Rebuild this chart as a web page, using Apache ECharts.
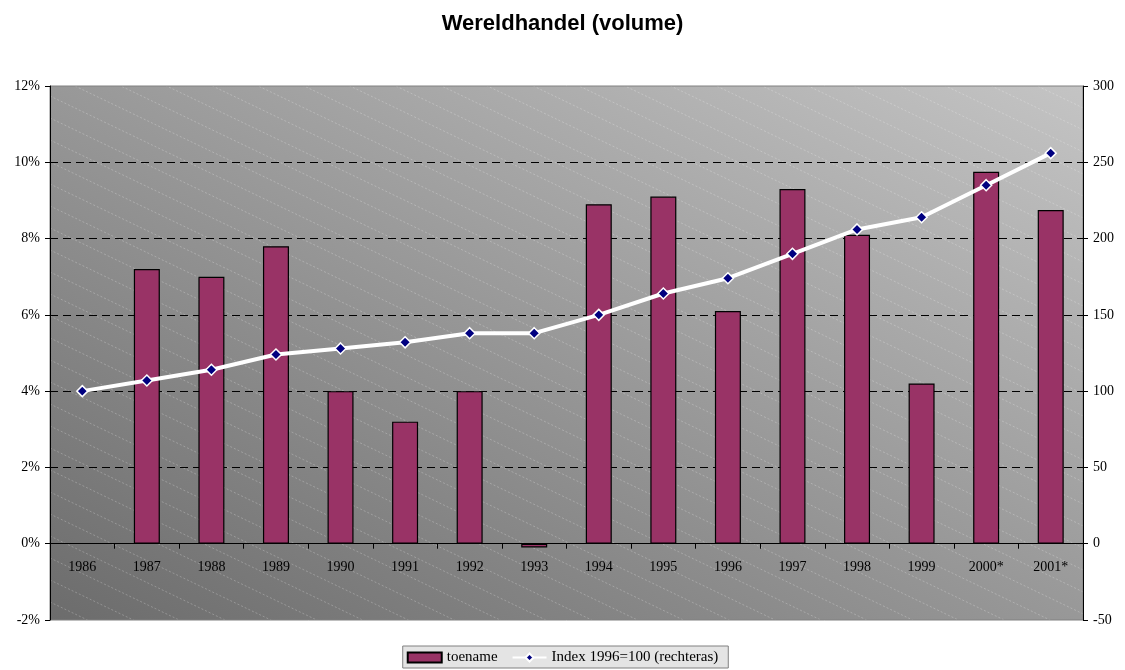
<!DOCTYPE html>
<html>
<head>
<meta charset="utf-8">
<script src="https://cdn.jsdelivr.net/npm/echarts@6/dist/echarts.min.js"></script>
<style>
  html, body { margin: 0; padding: 0; background: #fff; }
  #chart { width: 1125px; height: 670px; }
</style>
</head>
<body>
<div id="chart"></div>
<script>
  // jaren
  var years = ['1986', '1987', '1988', '1989', '1990', '1991', '1992', '1993',
    '1994', '1995', '1996', '1997', '1998', '1999', '2000*', '2001*'];
  // toename (%)
  var toename = [null, 7.2, 7.0, 7.8, 4.0, 3.2, 4.0, -0.1,
    8.9, 9.1, 6.1, 9.3, 8.1, 4.2, 9.75, 8.75];
  // Index 1996=100 (rechteras)
  var indexData = [100, 107, 114, 124, 128, 132, 138, 138,
    150, 164, 174, 190, 206, 214, 235, 256];
  var leftTicks = { min: -2, max: 12, step: 2 };
  var rightTicks = { min: -50, max: 300, step: 50 };

  var W = 1125, H = 670;
  var gl = 50, gr = 42, gt = 86, gb = 50;

  // achtergrond van het plotvlak: verloop + schuine lijntjes
  function makeBackground() {
    var c = document.createElement('canvas');
    c.width = W; c.height = H;
    var ctx = c.getContext('2d');
    var x0 = gl, y0 = gt, x1 = W - gr, y1 = H - gb;
    var w = x1 - x0, h = y1 - y0;
    var cx = x0 + w / 2, cy = y0 + h / 2;
    var len = Math.sqrt(w * w + h * h);
    var dx = h / len, dy = -w / len;
    var L = w * h / len;
    var g = ctx.createLinearGradient(cx - dx * L, cy - dy * L, cx + dx * L, cy + dy * L);
    g.addColorStop(0, '#6c6c6c');
    g.addColorStop(1, '#c4c4c4');
    ctx.fillStyle = g;
    ctx.fillRect(x0, y0, w, h);
    ctx.save();
    ctx.beginPath();
    ctx.rect(x0, y0, w, h);
    ctx.clip();
    ctx.strokeStyle = 'rgba(255,255,255,0.3)';
    ctx.lineWidth = 0.8;
    ctx.setLineDash([2, 2]);
    var slope = 0.48;
    for (var s = -1200; s < 800; s += 22) {
      ctx.beginPath();
      ctx.moveTo(x0, y0 + s);
      ctx.lineTo(x1, y0 + s + slope * w);
      ctx.stroke();
    }
    ctx.restore();
    return c;
  }

  var myChart = echarts.init(document.getElementById('chart'));
  var serif = '"Liberation Serif", "Times New Roman", serif';

  // afstand tussen 0%-lijn en onderrand, voor de jaartallen
  var plotH = H - gt - gb;
  var zeroOffset = plotH * (0 - leftTicks.min) / (leftTicks.max - leftTicks.min);

  var option = {
    backgroundColor: '#ffffff',
    animation: false,
    title: {
      text: 'Wereldhandel (volume)',
      left: 'center',
      top: 8,
      textStyle: {
        fontFamily: '"Liberation Sans", Arial, sans-serif',
        fontSize: 22,
        fontWeight: 'bold',
        color: '#000'
      }
    },
    grid: {
      left: gl, right: gr, top: gt, bottom: gb,
      show: true,
      backgroundColor: { image: makeBackground(), repeat: 'no-repeat' },
      borderWidth: 1,
      borderColor: '#808080'
    },
    legend: {
      bottom: 2,
      left: 'center',
      backgroundColor: '#e4e4e4',
      borderColor: '#808080',
      borderWidth: 1,
      borderRadius: 0,
      padding: [4, 10, 3, 4],
      itemGap: 14,
      itemWidth: 34,
      itemHeight: 10,
      textStyle: { fontFamily: serif, fontSize: 15, color: '#000' },
      data: [
        { name: 'toename', icon: 'rect' },
        { name: 'Index 1996=100 (rechteras)' }
      ]
    },
    xAxis: {
      type: 'category',
      data: years,
      boundaryGap: true,
      axisLine: { onZero: true, lineStyle: { color: '#000', width: 1 } },
      axisTick: { show: true, inside: false, length: 5, lineStyle: { color: '#000' } },
      axisLabel: {
        fontFamily: serif, fontSize: 14, color: '#000',
        margin: 16 - Math.round(zeroOffset)
      },
      splitLine: { show: false }
    },
    yAxis: [
      {
        type: 'value',
        min: leftTicks.min, max: leftTicks.max, interval: leftTicks.step,
        position: 'left',
        axisLine: { show: true, lineStyle: { color: '#000' } },
        axisTick: { show: true, length: 5, lineStyle: { color: '#000' } },
        axisLabel: {
          formatter: '{value}%',
          fontFamily: serif, fontSize: 14, color: '#000', margin: 10
        },
        splitLine: {
          show: true,
          showMinLine: false,
          showMaxLine: false,
          lineStyle: { color: '#000', type: [8, 5], width: 1 }
        }
      },
      {
        type: 'value',
        min: rightTicks.min, max: rightTicks.max, interval: rightTicks.step,
        position: 'right',
        axisLine: { show: true, lineStyle: { color: '#000' } },
        axisTick: { show: true, length: 5, lineStyle: { color: '#000' } },
        axisLabel: {
          fontFamily: serif, fontSize: 14, color: '#000', margin: 10
        },
        splitLine: { show: false }
      }
    ],
    series: [
      {
        name: 'toename',
        type: 'bar',
        yAxisIndex: 0,
        barWidth: 26,
        data: toename,
        itemStyle: { color: '#993366', borderColor: '#000', borderWidth: 1.2 },
        z: 2
      },
      {
        name: 'Index 1996=100 (rechteras)',
        type: 'line',
        yAxisIndex: 1,
        data: indexData,
        symbol: 'diamond',
        symbolSize: 11,
        lineStyle: { color: '#ffffff', width: 4 },
        itemStyle: { color: '#000080', borderColor: '#ffffff', borderWidth: 1.5 },
        z: 3
      }
    ]
  };
  myChart.setOption(option);
</script>
</body>
</html>
